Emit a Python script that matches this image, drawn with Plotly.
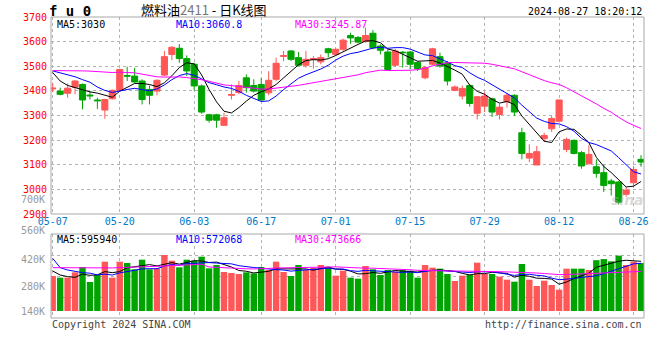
import plotly.graph_objects as go

# ---------------- data ----------------
tick_labels = ["05-07", "05-20", "06-03", "06-17", "07-01", "07-15", "07-29", "08-12", "08-26"]
tick_index = [0, 9, 19, 28, 38, 48, 58, 68, 78]

opens = [3408, 3399, 3390, 3415, 3426, 3383, 3363, 3322, 3368, 3402,
         3462, 3460, 3440, 3406, 3399, 3464, 3548, 3573, 3531, 3508,
         3420, 3303, 3303, 3260, 3382, 3393, 3453, 3422, 3426, 3392,
         3447, 3540, 3562, 3535, 3504, 3528, 3518, 3571, 3548, 3569,
         3625, 3617, 3600, 3634, 3582, 3558, 3504, 3557, 3558, 3515,
         3453, 3508, 3539, 3514, 3402, 3379, 3422, 3309, 3338, 3368,
         3304, 3356, 3382, 3230, 3127, 3099, 3206, 3246, 3277, 3162,
         3199, 3149, 3104, 3092, 3068, 3034, 3030, 2980, 3027, 3122]
highs = [3433, 3413, 3430, 3444, 3430, 3399, 3372, 3368, 3406, 3490,
         3498, 3494, 3447, 3422, 3447, 3562, 3582, 3590, 3544, 3514,
         3426, 3307, 3307, 3311, 3426, 3440, 3467, 3447, 3451, 3480,
         3535, 3562, 3566, 3558, 3562, 3541, 3548, 3575, 3571, 3612,
         3636, 3623, 3657, 3647, 3589, 3569, 3571, 3562, 3562, 3521,
         3501, 3575, 3555, 3521, 3422, 3422, 3426, 3379, 3395, 3372,
         3348, 3392, 3386, 3250, 3183, 3176, 3230, 3298, 3365, 3210,
         3203, 3156, 3179, 3122, 3101, 3043, 3034, 3009, 3095, 3139]
lows = [3395, 3382, 3372, 3386, 3325, 3365, 3327, 3287, 3365, 3399,
        3440, 3433, 3345, 3345, 3382, 3460, 3525, 3514, 3460, 3402,
        3307, 3271, 3250, 3257, 3365, 3386, 3393, 3393, 3359, 3382,
        3440, 3521, 3521, 3501, 3494, 3490, 3508, 3535, 3541, 3562,
        3591, 3593, 3596, 3569, 3548, 3481, 3498, 3494, 3487, 3481,
        3447, 3504, 3494, 3422, 3399, 3365, 3336, 3284, 3314, 3294,
        3284, 3332, 3298, 3122, 3111, 3099, 3192, 3233, 3271, 3151,
        3142, 3084, 3101, 3047, 2989, 2975, 2939, 2970, 3016, 3092]
closes = [3411, 3386, 3411, 3440, 3363, 3380, 3360, 3365, 3402, 3487,
          3460, 3436, 3365, 3382, 3443, 3539, 3577, 3531, 3481, 3420,
          3314, 3281, 3281, 3291, 3385, 3422, 3413, 3399, 3363, 3443,
          3512, 3543, 3528, 3504, 3528, 3531, 3535, 3555, 3569, 3606,
          3615, 3598, 3625, 3575, 3565, 3487, 3562, 3555, 3508, 3490,
          3494, 3571, 3501, 3440, 3416, 3410, 3349, 3376, 3379, 3314,
          3334, 3382, 3314, 3146, 3146, 3153, 3219, 3288, 3363, 3203,
          3146, 3095, 3142, 3065, 3016, 3023, 2948, 2997, 3081, 3111]
volumes = [420000, 400000, 400000, 464000, 528000, 348000, 432000, 592000, 400000, 592000,
           576000, 500000, 616000, 500000, 512000, 672000, 604000, 524000, 616000, 604000,
           652000, 512000, 552000, 468000, 456000, 444000, 464000, 452000, 528000, 492000,
           592000, 468000, 420000, 552000, 492000, 516000, 552000, 528000, 424000, 484000,
           400000, 388000, 540000, 500000, 432000, 492000, 472000, 492000, 484000, 400000,
           552000, 520000, 508000, 444000, 360000, 424000, 432000, 580000, 444000, 444000,
           412000, 376000, 352000, 564000, 376000, 300000, 364000, 312000, 256000, 508000,
           508000, 508000, 492000, 610000, 623000, 596000, 664000, 552000, 592000, 576000]
# sessions before 05-07 (estimated from where the moving-average lines start)
prior_closes = [3380, 3395, 3420, 3440, 3410, 3430, 3445, 3420, 3450, 3470,
                3500, 3530, 3560, 3590, 3570, 3550, 3540, 3560, 3520, 3480,
                3470, 3495, 3510, 3480, 3485, 3556, 3501, 3485, 3418]
prior_volumes = [430000, 450000, 480000, 470000, 440000, 500000, 460000, 420000, 480000, 510000,
                 450000, 440000, 470000, 490000, 460000, 430000, 480000, 470000, 450000, 500000,
                 1520000, 680000, 664000, 648000, 408000, 640000, 500000, 504000, 336000]

price_ticks = [2900, 3000, 3100, 3200, 3300, 3400, 3500, 3600, 3700]
vol_tick_labels = ["700K", "560K", "420K", "280K", "140K"]
price_ma_text = ["MA5:3030", "MA10:3060.8", "MA30:3245.87"]
vol_ma_text = ["MA5:595940", "MA10:572068", "MA30:473666"]

# ---------------- helpers ----------------
W, H = 660, 360
ML, MR, MT, MB = 51, 11, 17, 42
PW, PH = W - ML - MR, H - MT - MB


def px_x(x):
    return (x - ML) / PW


def px_y(y):
    return (H - MB - y) / PH


def moving_avg(prior, vals, n):
    full = list(prior) + list(vals)
    off = len(prior)
    return [sum(full[off + i - n + 1: off + i + 1]) / n for i in range(len(vals))]


RED = "#ff5757"
GREEN = "#00a400"
MONO = "DejaVu Sans Mono"
idx = list(range(len(closes)))

fig = go.Figure()
fig.add_trace(go.Candlestick(
    x=idx, open=opens, high=highs, low=lows, close=closes,
    increasing=dict(line=dict(color=RED, width=1), fillcolor=RED),
    decreasing=dict(line=dict(color=GREEN, width=1), fillcolor=GREEN),
    whiskerwidth=0, xaxis="x", yaxis="y", hoverinfo="skip", showlegend=False))

for n, col in [(5, "#000000"), (10, "#0000ff"), (30, "#ff00ff")]:
    fig.add_trace(go.Scatter(x=idx, y=moving_avg(prior_closes, closes, n), mode="lines",
                             line=dict(color=col, width=1), xaxis="x", yaxis="y",
                             hoverinfo="skip", showlegend=False))

bar_colors = [RED if c > o else GREEN for o, c in zip(opens, closes)]
fig.add_trace(go.Bar(x=idx, y=volumes, marker=dict(color=bar_colors, line=dict(width=0)),
                     xaxis="x2", yaxis="y2", hoverinfo="skip", showlegend=False))
for n, col in [(5, "#000000"), (10, "#0000ff"), (30, "#ff00ff")]:
    fig.add_trace(go.Scatter(x=idx, y=moving_avg(prior_volumes, volumes, n), mode="lines",
                             line=dict(color=col, width=1), xaxis="x2", yaxis="y2",
                             hoverinfo="skip", showlegend=False))

main_bottom = px_y(214)
vol_top = px_y(234)
xr = [-0.23, 79.4]
grid = dict(showgrid=True, gridcolor="#b4b4b4", griddash="dot", gridwidth=1)

annotations = []
# titles
annotations.append(dict(x=px_x(47), y=px_y(10.5), xref="paper", yref="paper", xanchor="left",
                        yanchor="middle", text="<b>f u 0</b>", showarrow=False,
                        font=dict(family=MONO, size=14, color="#000")))
annotations.append(dict(x=px_x(140), y=px_y(10), xref="paper", yref="paper", xanchor="left",
                        yanchor="middle", showarrow=False,
                        text="燃料油<span style='color:#777'>2411</span> - 日K线图",
                        font=dict(family="Noto Sans CJK SC", size=13, color="#000")))
annotations.append(dict(x=px_x(649), y=px_y(11), xref="paper", yref="paper", xanchor="right",
                        yanchor="middle", text="2024-08-27 18:20:12", showarrow=False,
                        font=dict(family=MONO, size=10, color="#000")))
# MA legends
for txt, xp, col in zip(price_ma_text, [55, 175, 295], ["#000", "#0000ff", "#ff00ff"]):
    annotations.append(dict(x=px_x(xp), y=px_y(24), xref="paper", yref="paper", xanchor="left",
                            yanchor="middle", text=txt, showarrow=False,
                            font=dict(family=MONO, size=10, color=col)))
for txt, xp, col in zip(vol_ma_text, [55, 175, 295], ["#000", "#0000ff", "#ff00ff"]):
    annotations.append(dict(x=px_x(xp), y=px_y(239.5), xref="paper", yref="paper", xanchor="left",
                            yanchor="middle", text=txt, showarrow=False,
                            font=dict(family=MONO, size=10, color=col)))
# volume axis labels
for txt, yp in zip(vol_tick_labels, [199.5, 230, 259, 286, 311]):
    annotations.append(dict(x=px_x(47), y=px_y(yp), xref="paper", yref="paper", xanchor="right",
                            yanchor="middle", text=txt, showarrow=False,
                            font=dict(family=MONO, size=10, color="#999")))
# footer
annotations.append(dict(x=px_x(50), y=px_y(324), xref="paper", yref="paper", xanchor="left",
                        yanchor="middle", text="Copyright 2024 SINA.COM", showarrow=False,
                        font=dict(family=MONO, size=10, color="#444")))
annotations.append(dict(x=px_x(649), y=px_y(324), xref="paper", yref="paper", xanchor="right",
                        yanchor="middle", text="http://finance.sina.com.cn", showarrow=False,
                        font=dict(family=MONO, size=10, color="#444")))
# watermark
annotations.append(dict(x=px_x(651), y=px_y(200), xref="paper", yref="paper", xanchor="right",
                        yanchor="middle", text="<b><i>sina</i></b>", showarrow=False,
                        font=dict(family="DejaVu Sans", size=14, color="rgba(170,170,170,0.45)")))

shapes = [
    dict(type="rect", xref="paper", yref="paper", x0=0, x1=1, y0=main_bottom, y1=1,
         line=dict(color="#a8a8a8", width=1)),
    dict(type="rect", xref="paper", yref="paper", x0=0, x1=1, y0=0, y1=vol_top,
         line=dict(color="#a8a8a8", width=1)),
]

fig.update_layout(
    width=W, height=H, margin=dict(l=ML, r=MR, t=MT, b=MB),
    paper_bgcolor="#ffffff", plot_bgcolor="#ffffff",
    showlegend=False, hovermode=False, boxgap=0.18, boxgroupgap=0, bargap=0.14,
    xaxis=dict(domain=[0, 1], anchor="y", range=xr, tickmode="array", tickvals=tick_index,
               ticktext=tick_labels, tickfont=dict(family=MONO, size=10, color="#0078c8"),
               ticks="", showline=False, zeroline=False, rangeslider=dict(visible=False),
               fixedrange=True, **grid),
    yaxis=dict(domain=[main_bottom, 1], anchor="x", range=[2900, 3700], tickmode="array",
               tickvals=price_ticks, ticktext=[str(v) for v in price_ticks],
               tickfont=dict(family=MONO, size=10, color="#ff0000"), ticks="",
               ticklabelstandoff=3, showline=False, zeroline=False, **grid),
    xaxis2=dict(domain=[0, 1], anchor="y2", range=xr, matches="x", tickmode="array",
                tickvals=tick_index, showticklabels=False, ticks="", showline=False,
                zeroline=False, **grid),
    yaxis2=dict(domain=[0, vol_top], anchor="x2", range=[-84000, 924000], tickmode="array",
                tickvals=[168000, 420000, 672000], showticklabels=False, ticks="",
                showline=False, zeroline=False, **grid),
    annotations=annotations, shapes=shapes,
)

fig.write_html("out.html", config={"displayModeBar": False, "staticPlot": True},
               post_script="document.body.style.margin='0';document.body.style.overflow='hidden';")
